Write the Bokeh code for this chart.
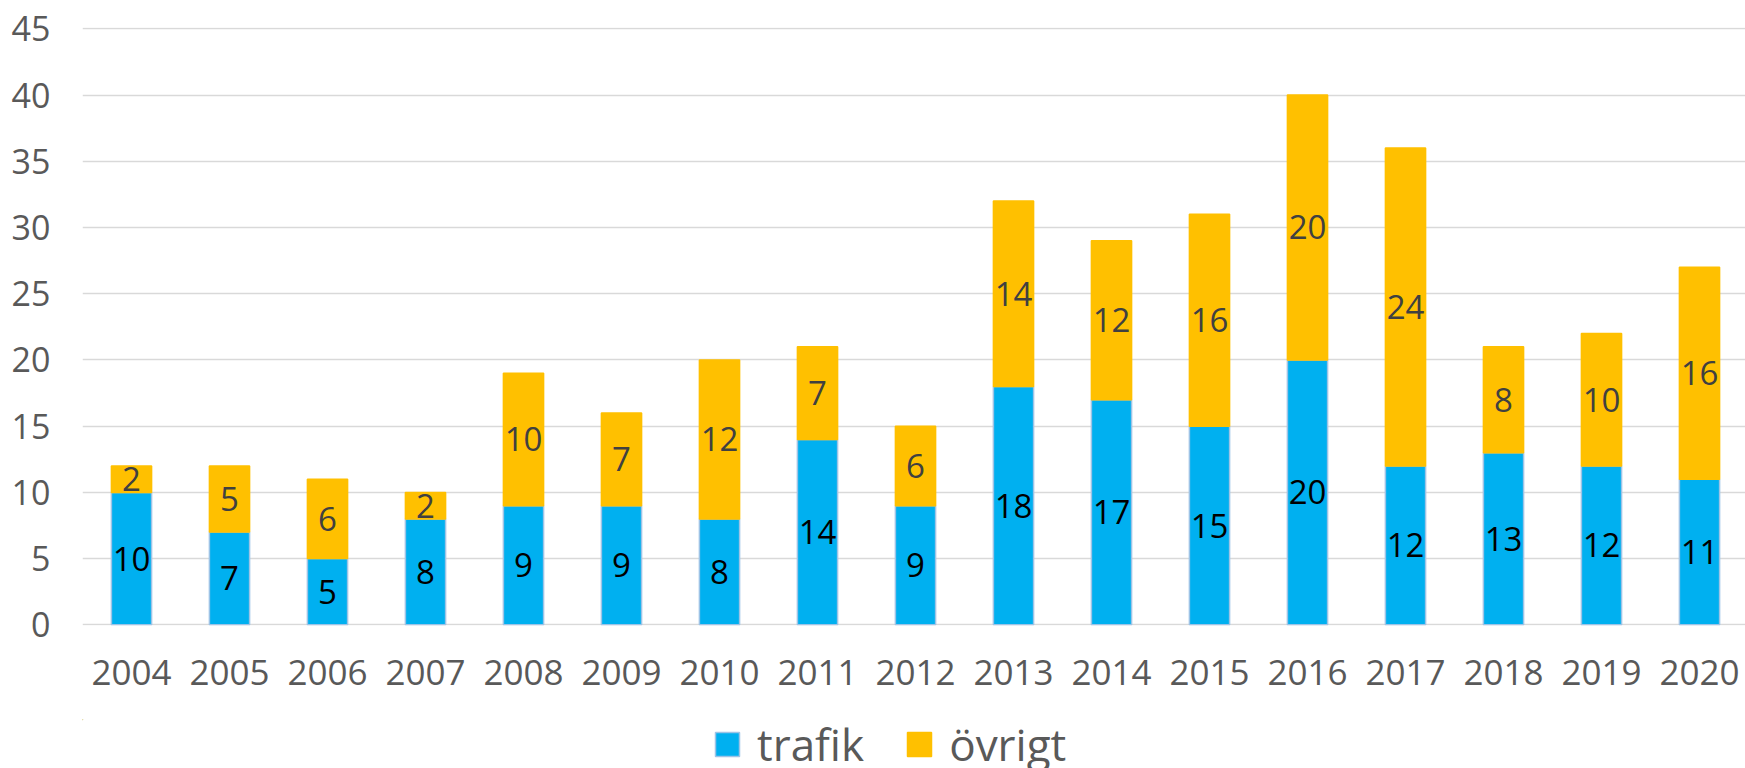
from bokeh.plotting import figure
from bokeh.layouts import column
from bokeh.models import Range1d, FixedTicker, Legend, LegendItem, ColumnDataSource
from bokeh.core.properties import value
from bokeh.embed import file_html
from bokeh.resources import INLINE

years = [2004, 2005, 2006, 2007, 2008, 2009, 2010, 2011, 2012, 2013, 2014, 2015, 2016, 2017, 2018, 2019, 2020]
trafik = [10, 7, 5, 8, 9, 9, 8, 14, 9, 18, 17, 15, 20, 12, 13, 12, 11]
ovrigt = [2, 5, 6, 2, 10, 7, 12, 7, 6, 14, 12, 16, 20, 24, 8, 10, 16]
y_ticks = [0, 5, 10, 15, 20, 25, 30, 35, 40, 45]
series_names = ["trafik", "övrigt"]

BLUE = "#00B0F0"
ORANGE = "#FFC000"
BLUE_EDGE = "#9DC3E6"
FONT = "Open Sans"

src = ColumnDataSource(dict(
    year=years, trafik=trafik, ovrigt=ovrigt,
    t_lab=[str(v) for v in trafik], o_lab=[str(v) for v in ovrigt],
    t_mid=[t / 2 for t in trafik],
    o_mid=[t + o / 2 for t, o in zip(trafik, ovrigt)],
))

p = figure(width=1745, height=719, output_backend="svg", toolbar_location=None,
           x_range=Range1d(2003.5, 2003.5 + 1663 / 98.0), y_range=Range1d(-0.05, 45.1),
           min_border_left=82, min_border_right=0, min_border_top=27, min_border_bottom=94)
p.outline_line_color = None
p.background_fill_color = "white"

r = p.vbar_stack(["trafik", "ovrigt"], x="year", width=0.41, source=src,
                 fill_color=[BLUE, ORANGE], line_color=[BLUE_EDGE, ORANGE], line_width=1.5)

p.text(x="year", y="t_mid", text="t_lab", source=src, text_align="center", text_baseline="middle",
       text_font=value(FONT), text_font_size="33px", text_color="#000000")
p.text(x="year", y="o_mid", text="o_lab", source=src, text_align="center", text_baseline="middle",
       text_font=value(FONT), text_font_size="33px", text_color="#404040")

p.xaxis.ticker = FixedTicker(ticks=years)
p.yaxis.ticker = FixedTicker(ticks=y_ticks)
for ax in (p.xaxis[0], p.yaxis[0]):
    ax.axis_line_color = None
    ax.major_tick_line_color = None
    ax.minor_tick_line_color = None
    ax.major_tick_in = 0
    ax.major_tick_out = 0
    ax.major_label_text_font = FONT
    ax.major_label_text_color = "#595959"
p.xaxis.major_label_text_font_size = "35px"
p.yaxis.major_label_text_font_size = "34px"
p.yaxis.major_label_standoff = 32
p.xaxis.major_label_standoff = 34

p.xgrid.grid_line_color = None
p.ygrid.grid_line_color = "#D9D9D9"
p.ygrid.grid_line_width = 1.5
p.ygrid.ticker = FixedTicker(ticks=y_ticks)

# legend strip below the chart (swatch bars have no size and sit outside its range)
leg = figure(width=1745, height=49, output_backend="svg", toolbar_location=None,
             x_range=Range1d(0, 1), y_range=Range1d(0, 1),
             min_border_left=82, min_border_right=0, min_border_top=0, min_border_bottom=0)
leg.axis.visible = False
leg.grid.visible = False
leg.outline_line_color = None
swatch = ColumnDataSource(dict(x=[-50.0], bottom=[50.0], top=[50.0]))
g1 = leg.vbar(x="x", bottom="bottom", top="top", width=0.0, source=swatch,
              fill_color=BLUE, line_color=BLUE_EDGE, line_width=1.5)
g2 = leg.vbar(x="x", bottom="bottom", top="top", width=0.0, source=swatch,
              fill_color=ORANGE, line_color=ORANGE, line_width=1.5)
legend = Legend(items=[LegendItem(label=series_names[0], renderers=[g1], index=0),
                       LegendItem(label=series_names[1], renderers=[g2], index=0)],
                orientation="horizontal", location="left",
                label_text_font=FONT, label_text_font_size="44px", label_text_color="#595959",
                glyph_width=30, glyph_height=30, label_standoff=15, spacing=40,
                padding=0, margin=630, border_line_color=None, background_fill_alpha=0)
leg.add_layout(legend, "center")

open("out.html", "w").write(file_html(column(p, leg, spacing=0), INLINE))
